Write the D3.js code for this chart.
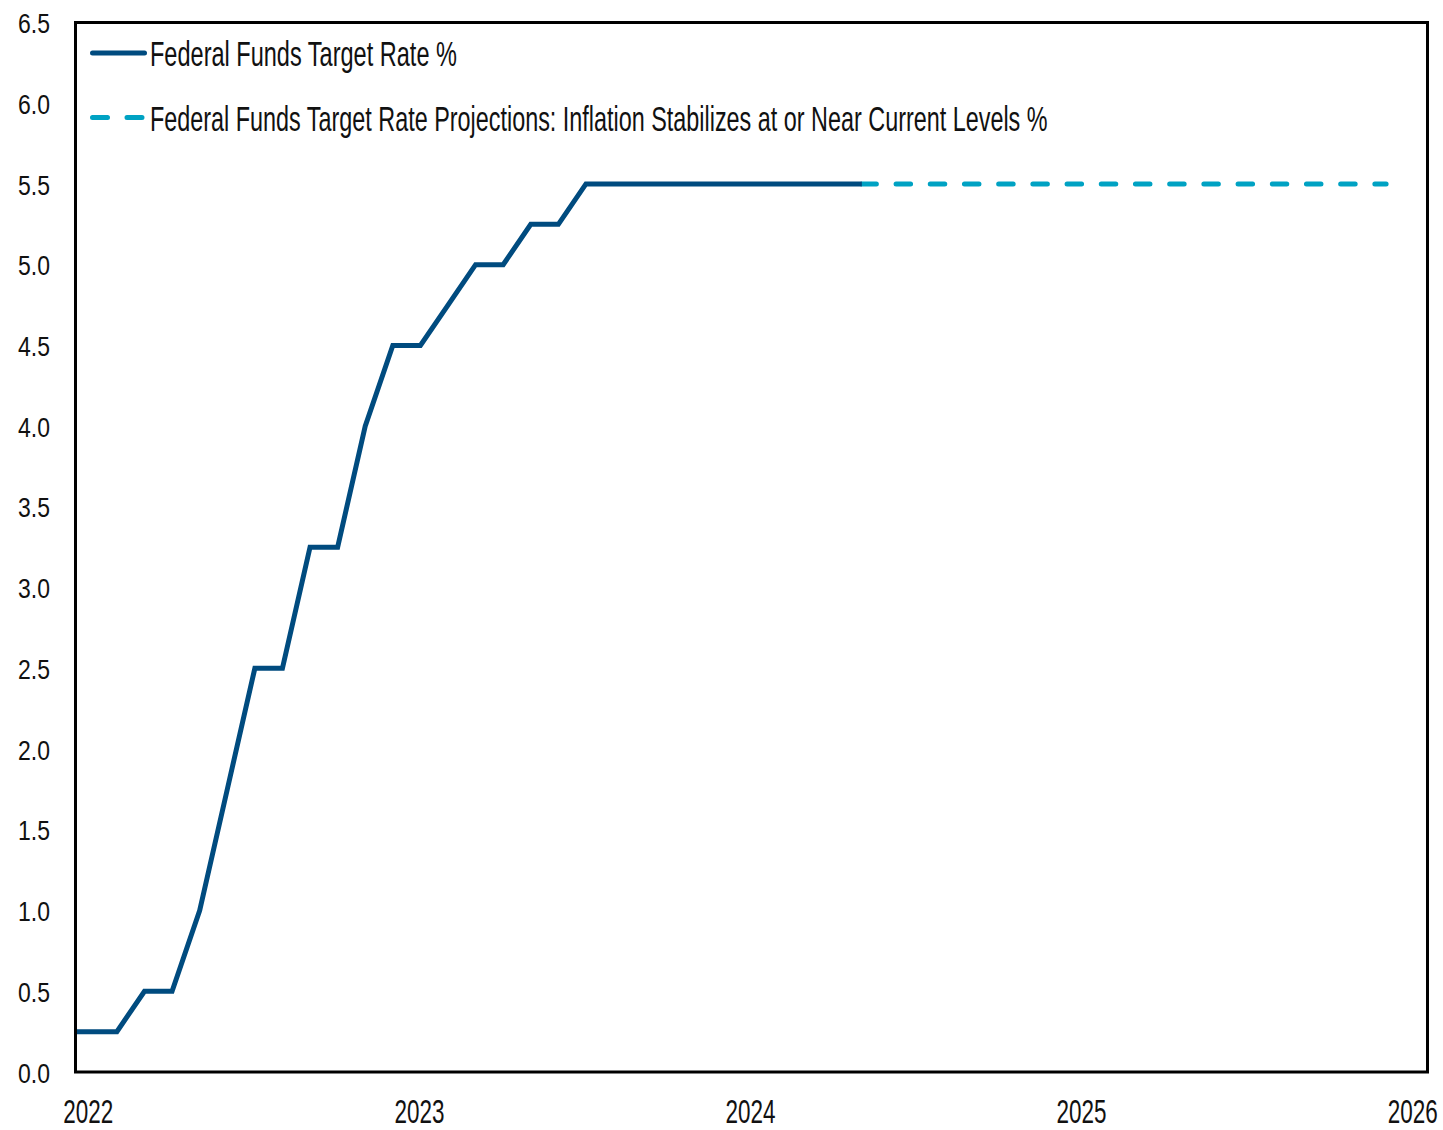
<!DOCTYPE html>
<html>
<head>
<meta charset="utf-8">
<script src="https://cdn.jsdelivr.net/npm/d3@7"></script>
<style>
  html, body { margin: 0; padding: 0; background: #fff; }
  svg { display: block; }
  text { font-family: "Liberation Sans Narrow", "Arial Narrow", "Liberation Sans", Arial, sans-serif; fill: #111; }
</style>
</head>
<body>
<svg id="chart" width="1443" height="1130"></svg>
<script>
// Monthly observations, upper bound of the target range (%), Dec 2021 .. May 2024
const actualMonths = [
  "2021-12",
  "2022-01","2022-02","2022-03","2022-04","2022-05","2022-06","2022-07","2022-08","2022-09","2022-10","2022-11","2022-12",
  "2023-01","2023-02","2023-03","2023-04","2023-05","2023-06","2023-07","2023-08","2023-09","2023-10","2023-11","2023-12",
  "2024-01","2024-02","2024-03","2024-04","2024-05"
];
const actualRate = [
  0.25,
  0.25, 0.25, 0.5, 0.5, 1.0, 1.75, 2.5, 2.5, 3.25, 3.25, 4.0, 4.5,
  4.5, 4.75, 5.0, 5.0, 5.25, 5.25, 5.5, 5.5, 5.5, 5.5, 5.5, 5.5,
  5.5, 5.5, 5.5, 5.5, 5.5
];

// Projection path: May 2024 .. Dec 2025
const projMonths = [
  "2024-05","2024-06","2024-07","2024-08","2024-09","2024-10","2024-11","2024-12",
  "2025-01","2025-02","2025-03","2025-04","2025-05","2025-06","2025-07","2025-08","2025-09","2025-10","2025-11","2025-12"
];
const projRate = [
  5.5, 5.5, 5.5, 5.5, 5.5, 5.5, 5.5, 5.5,
  5.5, 5.5, 5.5, 5.5, 5.5, 5.5, 5.5, 5.5, 5.5, 5.5, 5.5, 5.5
];

const yearLabels = ["2022", "2023", "2024", "2025", "2026"];
const yTicks = [0, 0.5, 1, 1.5, 2, 2.5, 3, 3.5, 4, 4.5, 5, 5.5, 6, 6.5];
const seriesNames = [
  "Federal Funds Target Rate %",
  "Federal Funds Target Rate Projections: Inflation Stabilizes at or Near Current Levels %"
];

const COLOR_ACTUAL = "#004b7f";
const COLOR_PROJ = "#00a2c3";

const svg = d3.select("#chart");
const plot = { left: 75.5, right: 1427.5, top: 22.5, bottom: 1072 };

// Condense a text horizontally so it spans the given width (narrow face look)
function condense(sel, width) {
  sel.each(function () {
    const natural = this.getComputedTextLength();
    if (natural > 0) {
      const sx = width / natural;
      const t = d3.select(this);
      const x0 = +t.attr("x") || 0;
      t.attr("x", x0 / sx).attr("transform", `scale(${sx},1)`);
    }
  });
}

// month index relative to Jan 2022
const startYear = 2022;
const monthIndex = s => {
  const [y, m] = s.split("-").map(Number);
  return (y - startYear) * 12 + (m - 1);
};
const nMonths = 49; // Jan 2022 .. Jan 2026, one category per month

const x = d3.scaleLinear().domain([-0.5, nMonths - 0.5]).range([plot.left, plot.right]);
const y = d3.scaleLinear().domain([0, 6.5]).range([plot.bottom, plot.top]);

svg.append("defs").append("clipPath").attr("id", "plotClip")
  .append("rect")
  .attr("x", plot.left).attr("y", plot.top - 10)
  .attr("width", plot.right - plot.left).attr("height", plot.bottom - plot.top + 10);

const line = d3.line()
  .x(d => x(monthIndex(d[0])))
  .y(d => y(d[1]));

const g = svg.append("g").attr("clip-path", "url(#plotClip)");

g.append("path")
  .datum(projMonths.map((m, i) => [m, projRate[i]]))
  .attr("d", line)
  .attr("fill", "none")
  .attr("stroke", COLOR_PROJ)
  .attr("stroke-width", 5)
  .attr("stroke-linecap", "round")
  .attr("stroke-dasharray", "14.5,19.7");

g.append("path")
  .datum(actualMonths.map((m, i) => [m, actualRate[i]]))
  .attr("d", line)
  .attr("fill", "none")
  .attr("stroke", COLOR_ACTUAL)
  .attr("stroke-width", 5)
  .attr("stroke-linejoin", "miter");

// Plot frame
svg.append("rect")
  .attr("x", plot.left).attr("y", plot.top)
  .attr("width", plot.right - plot.left)
  .attr("height", plot.bottom - plot.top)
  .attr("fill", "none")
  .attr("stroke", "#000")
  .attr("stroke-width", 3);

// Y axis labels
const yAxis = d3.axisLeft(y).tickValues(yTicks).tickSize(0).tickPadding(0)
  .tickFormat(d3.format(".1f"));
const yg = svg.append("g").attr("transform", `translate(50,0)`).call(yAxis);
yg.attr("font-family", null).attr("font-size", null);
yg.select(".domain").remove();
yg.selectAll("text")
  .attr("font-size", 28)
  .attr("dy", "0.36em")
  .attr("fill", "#111")
  .call(condense, 32);

// X axis labels: one per January
const xAxis = d3.axisBottom(x)
  .tickValues(yearLabels.map(s => monthIndex(s + "-01")))
  .tickSize(0).tickPadding(0)
  .tickFormat((d, i) => yearLabels[i]);
const xg = svg.append("g").attr("transform", `translate(-1.5,1123)`).call(xAxis);
xg.attr("font-family", null).attr("font-size", null);
xg.select(".domain").remove();
xg.selectAll("text")
  .attr("font-size", 33)
  .attr("dy", 0)
  .attr("y", 0)
  .attr("fill", "#111")
  .call(condense, 50);

// Legend
const legend = svg.append("g");
const legendRows = [
  { name: seriesNames[0], color: COLOR_ACTUAL, dash: null, y: 53, len: 307 },
  { name: seriesNames[1], color: COLOR_PROJ, dash: "15,19.5", y: 117.5, len: 898 }
];
legendRows.forEach(r => {
  legend.append("line")
    .attr("x1", 92.5).attr("x2", r.dash ? 142 : 144.5)
    .attr("y1", r.y).attr("y2", r.y)
    .attr("stroke", r.color)
    .attr("stroke-width", 5)
    .attr("stroke-linecap", "round")
    .attr("stroke-dasharray", r.dash);
  legend.append("g")
    .attr("transform", `translate(150,${r.y + 13})`)
    .append("text")
    .attr("x", 0).attr("y", 0)
    .attr("font-size", 36)
    .text(r.name)
    .call(condense, r.len);
});
</script>
</body>
</html>
